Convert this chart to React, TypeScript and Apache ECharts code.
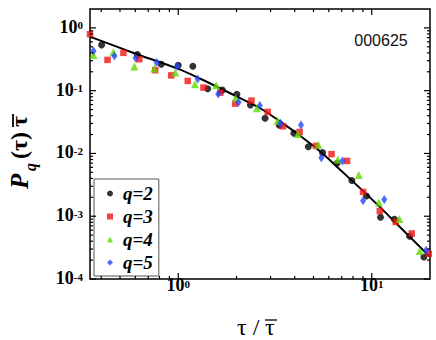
import React, { useEffect, useRef } from 'react';
import * as echarts from 'echarts';

// q = 2
const q2X = [0.402, 0.615, 0.817, 1.0, 1.19, 1.42, 1.69, 2.01, 2.36, 2.81, 3.33, 3.96, 4.70, 5.57, 6.62, 7.89, 9.39, 11.1, 13.1, 15.7, 18.6];
const q2Y = [0.536, 0.375, 0.264, 0.253, 0.245, 0.107, 0.102, 0.0878, 0.0593, 0.0364, 0.0281, 0.0210, 0.0128, 0.0103, 0.00698, 0.00371, 0.00210, 0.000962, 0.000894, 0.000479, 0.000224];
// q = 3
const q3X = [0.35, 0.431, 0.521, 0.629, 0.761, 0.920, 1.12, 1.35, 1.65, 1.97, 2.39, 2.90, 3.48, 4.24, 5.15, 6.20, 7.46, 9.02, 11.0, 13.3, 16.1, 19.7];
const q3Y = [0.794, 0.309, 0.400, 0.317, 0.212, 0.175, 0.143, 0.112, 0.0931, 0.0622, 0.0694, 0.0459, 0.0271, 0.0220, 0.0132, 0.00975, 0.00760, 0.00244, 0.00121, 0.00081, 0.000531, 0.000253];
// q = 4
const q4X = [0.365, 0.462, 0.593, 0.752, 0.965, 1.22, 1.57, 1.98, 2.55, 3.26, 4.15, 5.29, 6.68, 8.57, 10.9, 13.9, 17.7];
const q4Y = [0.371, 0.410, 0.242, 0.225, 0.195, 0.127, 0.122, 0.0767, 0.0525, 0.0333, 0.0205, 0.0137, 0.00802, 0.00454, 0.00166, 0.000904, 0.000279];
// q = 5
const q5X = [0.365, 0.468, 0.602, 0.773, 0.988, 1.26, 1.61, 2.05, 2.64, 3.38, 4.31, 5.49, 7.06, 9.02, 11.6, 19.1];
const q5Y = [0.430, 0.358, 0.333, 0.280, 0.244, 0.154, 0.0887, 0.0655, 0.0578, 0.0303, 0.0285, 0.00857, 0.00760, 0.00176, 0.00184, 0.000287];
// fitted curve
const fitX = [0.352, 0.593, 1.0, 1.30, 1.65, 2.09, 2.65, 3.36, 4.26, 5.40, 6.84, 8.67, 11.0, 13.9, 19.9];
const fitY = [0.719, 0.395, 0.222, 0.155, 0.109, 0.0758, 0.0525, 0.0324, 0.0191, 0.0108, 0.00556, 0.00283, 0.00141, 0.000686, 0.000228];

const seriesNames = ['q=2', 'q=3', 'q=4', 'q=5'];
const xMajorTicks = [1, 10];
const xMinorTicks = [0.4, 0.5, 0.6, 0.7, 0.8, 0.9, 2, 3, 4, 5, 6, 7, 8, 9];
const yMajorTicks = [1e-4, 1e-3, 1e-2, 1e-1, 1];
const yMinorTicks = [
  2e-4, 3e-4, 4e-4, 5e-4, 6e-4, 7e-4, 8e-4, 9e-4,
  2e-3, 3e-3, 4e-3, 5e-3, 6e-3, 7e-3, 8e-3, 9e-3,
  2e-2, 3e-2, 4e-2, 5e-2, 6e-2, 7e-2, 8e-2, 9e-2,
  0.2, 0.3, 0.4, 0.5, 0.6, 0.7, 0.8, 0.9,
];
const tagText = '000625';

const zip = (xs: number[], ys: number[]) => xs.map((x, i) => [x, ys[i]]);

const SERIF = '"Liberation Serif", "Times New Roman", serif';

function tickSeries(values: number[], dir: 'x' | 'y', len: number) {
  return {
    type: 'custom',
    silent: true,
    clip: false,
    z: 5,
    data: values.map((v) => (dir === 'x' ? [v, 1] : [1, v])),
    renderItem: (params: any, api: any) => {
      const cs = params.coordSys;
      const pt = api.coord([api.value(0), api.value(1)]);
      const st = { stroke: '#000', lineWidth: 1.2 };
      if (dir === 'x') {
        const x = pt[0];
        const yb = cs.y + cs.height;
        const yt = cs.y;
        return {
          type: 'group',
          children: [
            { type: 'line', shape: { x1: x, y1: yb, x2: x, y2: yb - len }, style: st },
            { type: 'line', shape: { x1: x, y1: yt, x2: x, y2: yt + len }, style: st },
          ],
        };
      }
      const y = pt[1];
      const xl = cs.x;
      const xr = cs.x + cs.width;
      return {
        type: 'group',
        children: [
          { type: 'line', shape: { x1: xl, y1: y, x2: xl + len, y2: y }, style: st },
          { type: 'line', shape: { x1: xr, y1: y, x2: xr - len, y2: y }, style: st },
        ],
      };
    },
  };
}

const powLabel = (v: number) => {
  const e = Math.log10(v);
  const r = Math.round(e);
  if (Math.abs(e - r) > 1e-6) return '';
  return `{b|10}{s|${r}}`;
};

const labelRich = {
  b: { fontFamily: SERIF, fontWeight: 'bold', fontSize: 18, lineHeight: 16, padding: [5, 0, 0, 0], verticalAlign: 'bottom', color: '#000' },
  s: { fontFamily: SERIF, fontWeight: 'bold', fontSize: 11, lineHeight: 10, padding: [0, 0, 11, 0], verticalAlign: 'top', color: '#000' },
};

export default function App() {
  const ref = useRef<HTMLDivElement>(null);
  useEffect(() => {
    document.body.style.margin = '0';
    if (!ref.current) return;
    const chart = echarts.init(ref.current, undefined, { renderer: 'svg' });
    const colors = ['#000000', '#f01414', '#5cd800', '#2046ff'];
    chart.setOption({
      animation: false,
      backgroundColor: '#fff',
      grid: { left: 90, right: 6, top: 9, bottom: 61, show: true, borderColor: '#000', borderWidth: 1.5, backgroundColor: 'transparent' },
      xAxis: {
        type: 'log',
        min: 0.35,
        max: 20,
        axisLine: { show: false },
        axisTick: { show: false },
        splitLine: { show: false },
        axisLabel: { formatter: powLabel, margin: -1, rich: labelRich, showMinLabel: false, showMaxLabel: false },
      },
      yAxis: {
        type: 'log',
        min: 1e-4,
        max: 2,
        axisLine: { show: false },
        axisTick: { show: false },
        splitLine: { show: false },
        axisLabel: { formatter: powLabel, margin: 7, rich: labelRich, showMaxLabel: false },
      },
      legend: {
        orient: 'vertical',
        left: 94,
        top: 179,
        data: [
          { name: seriesNames[0], icon: 'circle' },
          { name: seriesNames[1], icon: 'rect' },
          { name: seriesNames[2], icon: 'triangle' },
          { name: seriesNames[3], icon: 'diamond' },
        ],
        itemWidth: 6,
        itemHeight: 6,
        itemGap: 4,
        padding: [5, 6, 4, 13],
        borderColor: '#555',
        borderWidth: 1,
        backgroundColor: '#fff',
        selectedMode: false,
        textStyle: { fontFamily: SERIF, fontWeight: 'bold', fontStyle: 'italic', fontSize: 19, lineHeight: 19, color: '#000', padding: [0, 0, 0, 5] },
      },
      series: [
        {
          name: 'fit',
          type: 'line',
          data: zip(fitX, fitY),
          showSymbol: false,
          smooth: 0.3,
          lineStyle: { color: '#000', width: 2 },
          z: 3,
        },
        { name: seriesNames[0], type: 'scatter', clip: false, symbol: 'circle', symbolSize: 7, data: zip(q2X, q2Y), itemStyle: { color: colors[0] }, z: 4 },
        { name: seriesNames[1], type: 'scatter', clip: false, symbol: 'rect', symbolSize: 6.5, data: zip(q3X, q3Y), itemStyle: { color: colors[1] }, z: 4 },
        { name: seriesNames[2], type: 'scatter', clip: false, symbol: 'triangle', symbolSize: 8, data: zip(q4X, q4Y), itemStyle: { color: colors[2] }, z: 4 },
        { name: seriesNames[3], type: 'scatter', clip: false, symbol: 'diamond', symbolSize: [6, 9], data: zip(q5X, q5Y), itemStyle: { color: colors[3] }, z: 4 },
        tickSeries(xMajorTicks, 'x', 6),
        tickSeries(xMinorTicks, 'x', 3),
        tickSeries(yMajorTicks, 'y', 6),
        tickSeries(yMinorTicks, 'y', 3),
      ],
      graphic: [
        {
          type: 'text',
          x: 381,
          y: 40,
          style: { text: tagText, fontFamily: '"Liberation Sans", Arial, sans-serif', fontSize: 16, fill: '#111', align: 'center', verticalAlign: 'middle' },
        },
        // x-axis title: τ / τ̄
        {
          type: 'group',
          children: [
            { type: 'text', x: 237, y: 327, style: { text: 'τ /', fontFamily: SERIF, fontSize: 24, fill: '#000', align: 'left', verticalAlign: 'middle' } },
            { type: 'text', x: 265, y: 327, style: { text: 'τ', fontFamily: SERIF, fontSize: 24, fill: '#000', align: 'left', verticalAlign: 'middle' } },
            { type: 'line', shape: { x1: 265, y1: 320, x2: 277, y2: 320 }, style: { stroke: '#000', lineWidth: 1.3 } },
          ],
        },
        // y-axis title: P_q(τ)τ̄
        {
          type: 'group',
          x: 19,
          y: 189,
          rotation: Math.PI / 2,
          children: [
            { type: 'text', x: 0, y: 0, style: { text: 'P', fontFamily: SERIF, fontWeight: 'bold', fontStyle: 'italic', fontSize: 25, fill: '#000', align: 'left', verticalAlign: 'middle' } },
            { type: 'text', x: 18, y: 11, style: { text: 'q', fontFamily: SERIF, fontWeight: 'bold', fontStyle: 'italic', fontSize: 16, fill: '#000', align: 'left', verticalAlign: 'middle' } },
            { type: 'text', x: 30, y: 0, style: { text: '(τ)', fontFamily: SERIF, fontWeight: 'bold', fontSize: 24, fill: '#000', align: 'left', verticalAlign: 'middle' } },
            { type: 'text', x: 62, y: 0, style: { text: 'τ', fontFamily: SERIF, fontWeight: 'bold', fontSize: 24, fill: '#000', align: 'left', verticalAlign: 'middle' } },
            { type: 'line', shape: { x1: 62, y1: -6, x2: 75, y2: -6 }, style: { stroke: '#000', lineWidth: 1.8 } },
          ],
        },
      ],
    });
    return () => chart.dispose();
  }, []);
  return <div ref={ref} style={{ width: 436, height: 340 }} />;
}
